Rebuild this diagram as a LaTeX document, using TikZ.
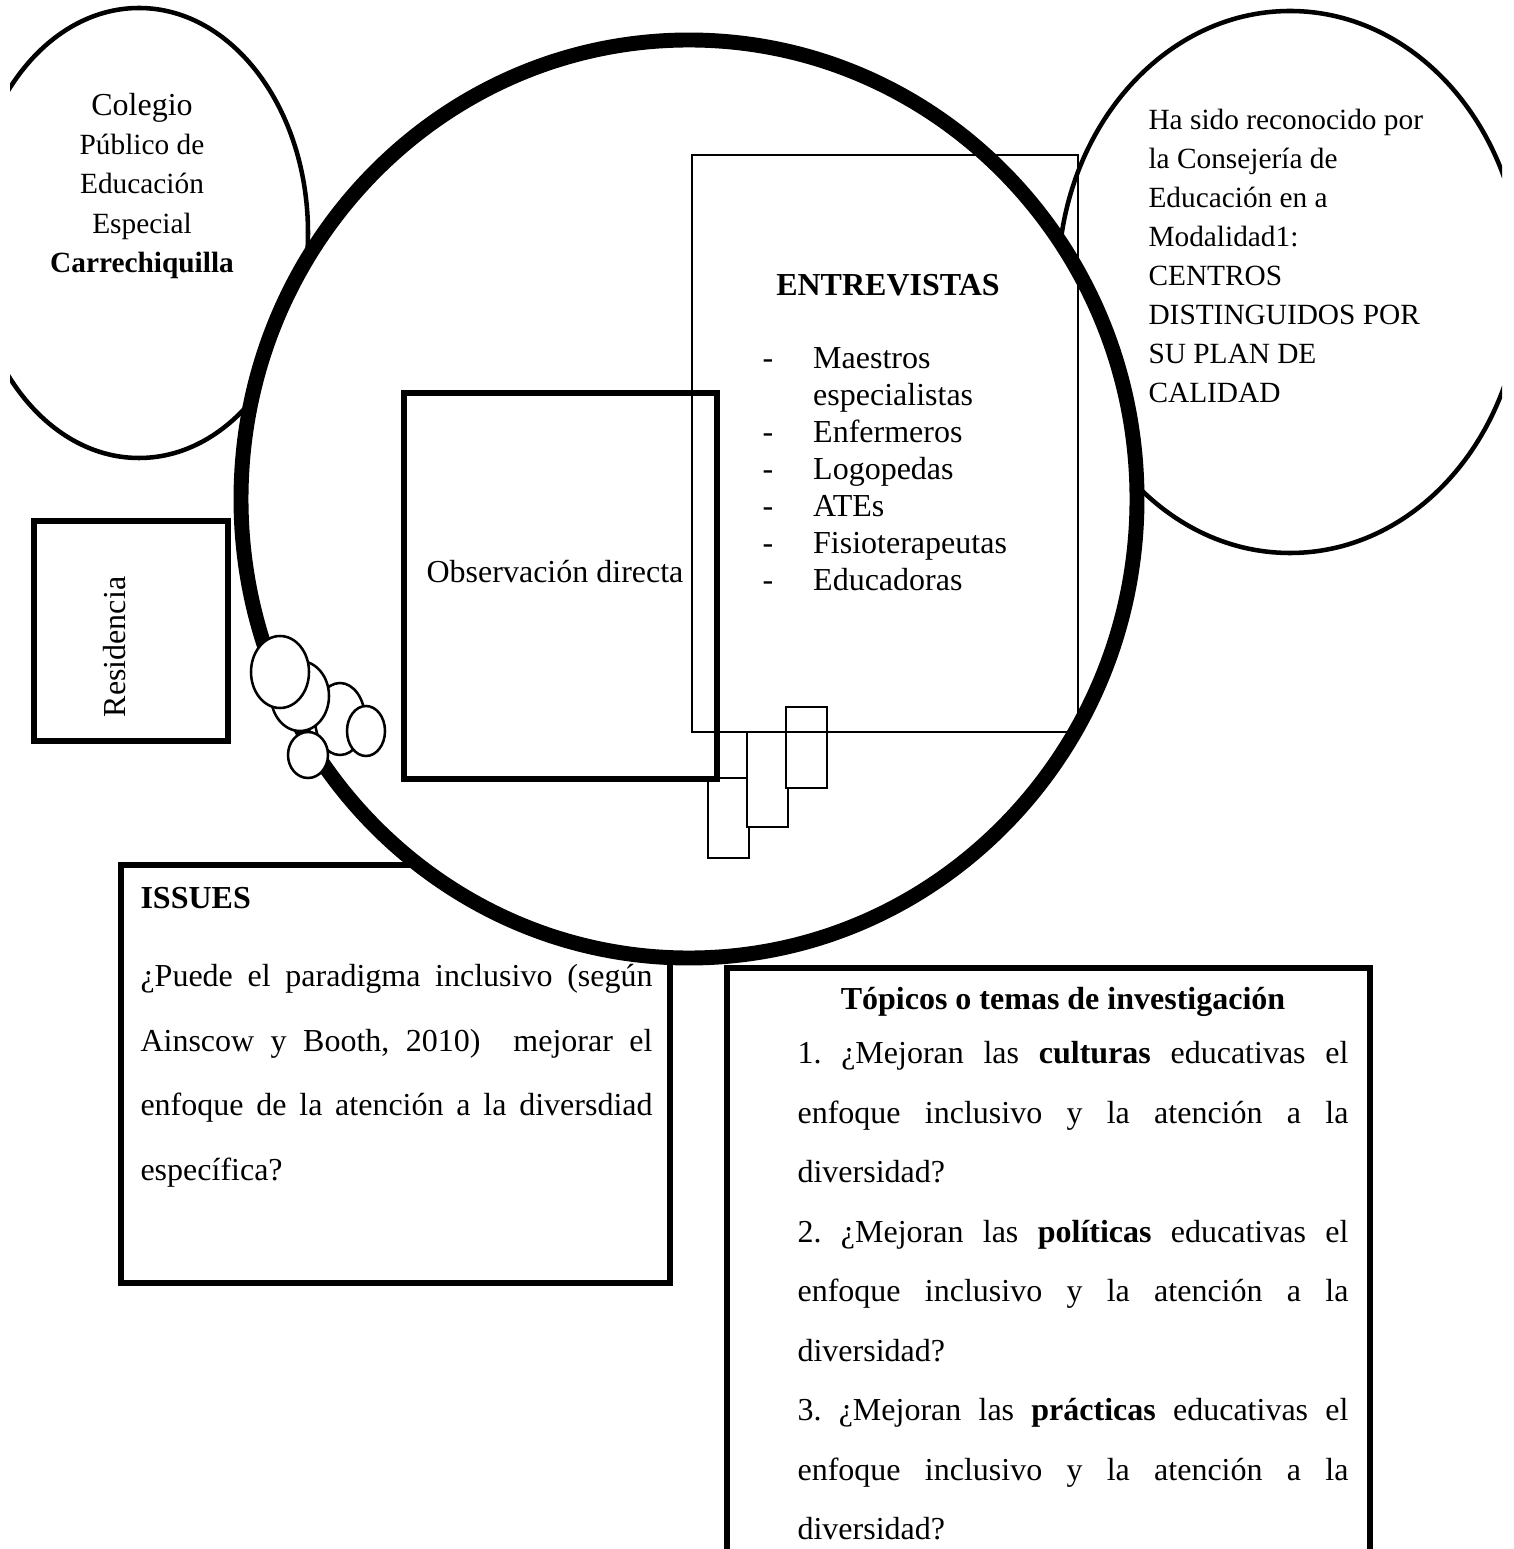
\documentclass[tikz,border=0pt]{standalone}
\usepackage{fontspec}
\setmainfont{Liberation Serif}

\newcommand{\issueline}[1]{\makebox[192pt][s]{#1}}
\newcommand{\topicline}[1]{\makebox[206.6pt][s]{#1}}

\tikzset{
  frame/.style={draw=black, line width=1.9pt},
  thinframe/.style={draw=black, line width=0.75pt},
  oval/.style={draw=black, line width=1.7pt, fill=white},
  bubble/.style={draw=black, line width=0.95pt, fill=white},
  txt/.style={font=\fontsize{12}{14.4}\selectfont, inner sep=0pt}
}

\begin{document}
\begin{tikzpicture}[x=0.375pt,y=-0.375pt]
    \useasboundingbox (0,0) rectangle (1513,1549);
    %% Draw the side ovals
    \begin{scope}
      \clip (10,0) rectangle (1502,1549);
      \draw[oval] (139,233) ellipse [x radius=169, y radius=225];
      \draw[oval] (1290,282) ellipse [x radius=232, y radius=271];
    \end{scope}
    \node[txt, align=center, font=\fontsize{11}{14.8}\selectfont] (colegio) at (142,186)
      {{\fontsize{12}{14.8}\selectfont Colegio}\\Público de\\Educación\\Especial\\\textbf{Carrechiquilla}};
    \node[txt, align=left, anchor=west, font=\fontsize{11}{14.6}\selectfont] (modalidad) at (1148,256)
      {Ha sido reconocido por\\la Consejería de\\Educación en a\\Modalidad1:\\CENTROS\\DISTINGUIDOS POR\\SU PLAN DE\\CALIDAD};
    %% Draw the issues box
    \draw[frame, fill=white] (121,865) rectangle (670,1283);
    \node[txt, anchor=west, font=\fontsize{12}{14.4}\selectfont\bfseries] (issues) at (140,898) {ISSUES};
    \node[txt, anchor=north west, align=left, font=\fontsize{12}{24.2}\selectfont\frenchspacing] (pregunta) at (140,964)
      {\issueline{¿Puede el paradigma inclusivo (según}\\
       \issueline{Ainscow y Booth, 2010)~ mejorar el}\\
       \issueline{enfoque de la atención a la diversdiad}\\
       específica?};
    %% Draw the big circle
    \draw[line width=5.6pt, fill=white] (689,499) ellipse [x radius=448, y radius=459];
    %% Draw the small steps
    \foreach \x/\y/\h in {708/778/80, 747/732/95, 786/707/81}
      \draw[thinframe, fill=white] (\x,\y) rectangle ++(41,\h);
    %% Draw the inner boxes
    \draw[thinframe] (692,155) rectangle (1078,732);
    \draw[frame] (404,393) rectangle (717,779);
    \node[txt, font=\fontsize{12}{14.4}\selectfont\bfseries] (entrevistas) at (888,285) {ENTREVISTAS};
    \node[txt, anchor=west, align=left, font=\fontsize{12}{13.9}\selectfont] (personal) at (762,469)
      {\makebox[19pt][l]{-}Maestros\\\hspace*{19pt}especialistas\\\makebox[19pt][l]{-}Enfermeros\\
       \makebox[19pt][l]{-}Logopedas\\\makebox[19pt][l]{-}ATEs\\\makebox[19pt][l]{-}Fisioterapeutas\\
       \makebox[19pt][l]{-}Educadoras};
    \node[txt] (observacion) at (555,572) {Observación directa};
    %% Draw the bubbles
    \foreach \cx/\cy/\rx/\ry in {340/719/25/36, 300/696/29/35, 280/672/29/36, 366/731/19/25, 308/755/20/23}
      \draw[bubble] (\cx,\cy) ellipse [x radius=\rx, y radius=\ry];
    %% Draw the residence box
    \draw[frame] (34,521) rectangle (228,741);
    \node[txt, rotate=90] (residencia) at (115,647) {Residencia};
    %% Draw the topics box
    \draw[frame] (727,968) rectangle (1370,1600);
    \node[txt, font=\fontsize{12}{14.4}\selectfont\bfseries] (topicos) at (1063,1002) {Tópicos o temas de investigación};
    \node[txt, anchor=north west, align=left, font=\fontsize{12}{22.3}\selectfont\frenchspacing] (temas) at (797,1041)
      {\topicline{1. ¿Mejoran las \textbf{culturas} educativas el}\\
       \topicline{enfoque inclusivo y la atención a la}\\
       diversidad?\\
       \topicline{2. ¿Mejoran las \textbf{políticas} educativas el}\\
       \topicline{enfoque inclusivo y la atención a la}\\
       diversidad?\\
       \topicline{3. ¿Mejoran las \textbf{prácticas} educativas el}\\
       \topicline{enfoque inclusivo y la atención a la}\\
       diversidad?};
\end{tikzpicture}
\end{document}
